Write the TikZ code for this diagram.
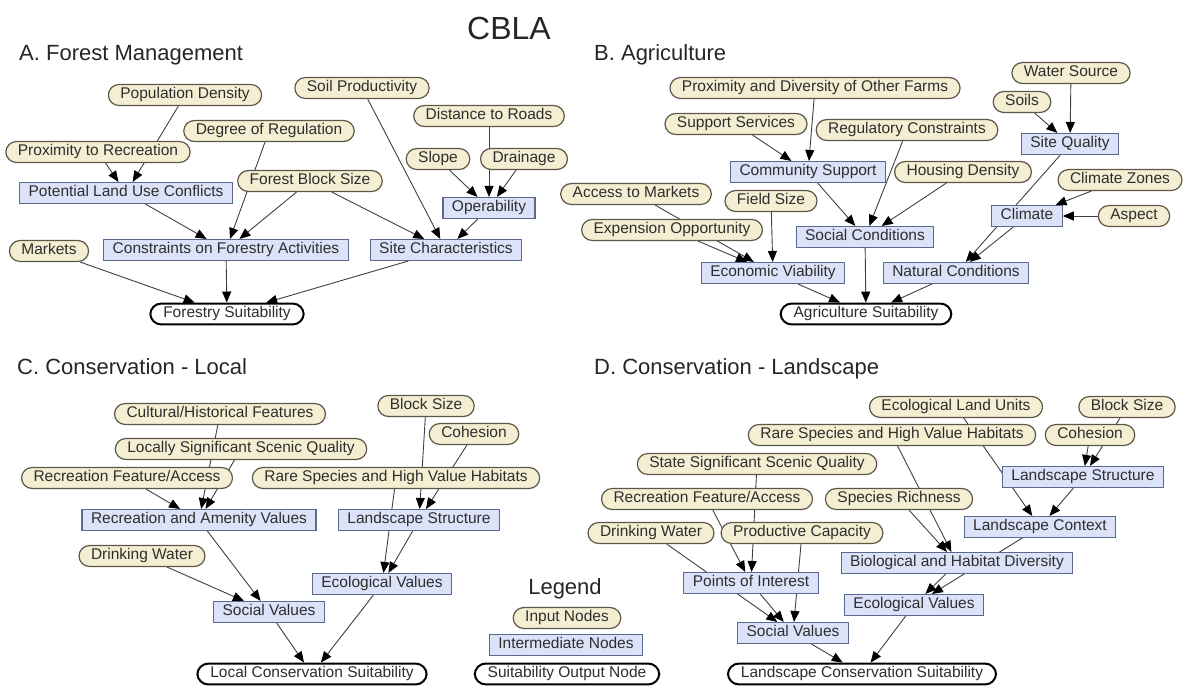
\documentclass[tikz,border=0pt]{standalone}
\usepackage{fontspec}
\setmainfont{Liberation Sans}
\usetikzlibrary{arrows.meta,backgrounds}
\definecolor{infill}{HTML}{F4EFD3}
\definecolor{indraw}{HTML}{5E5748}
\definecolor{midfill}{HTML}{DCE3F9}
\definecolor{middraw}{HTML}{5D6890}
\definecolor{inktext}{HTML}{2E2E2E}

\begin{document}
\begin{tikzpicture}[x=1pt,y=-1pt]
\tikzstyle{every node}=[font=\fontsize{15.5}{18}\selectfont, text=inktext, text height=11pt, text depth=3.5pt, inner ysep=3.2pt]
\tikzstyle{innode}=[draw=indraw, fill=infill, line width=1.2pt, rounded corners=10.5pt, inner xsep=12pt]
\tikzstyle{midnode}=[draw=middraw, fill=midfill, line width=1.2pt, inner xsep=9pt]
\tikzstyle{outnode}=[draw=black, fill=white, line width=2pt, rounded corners=11pt, inner xsep=13pt]
\tikzstyle{heading}=[font=\fontsize{22}{26}\selectfont, text=black!85, text height=16pt, text depth=0pt, inner sep=0pt]
\tikzstyle{link}=[draw=black!75, line width=0.9pt, -{Triangle[length=11pt,width=9pt,color=black]}]

\useasboundingbox (0,0) rectangle (1183,686);

\node[heading, font=\fontsize{32}{36}\selectfont, text height=23pt] (cbla) at (509,28) {CBLA};
\node[heading, anchor=west] (titleA) at (19,52) {A. Forest Management};
\node[heading, anchor=west] (titleB) at (594,52) {B. Agriculture};
\node[heading, anchor=west] (titleC) at (17,366) {C. Conservation - Local};
\node[heading, anchor=west] (titleD) at (594,366) {D. Conservation - Landscape};

% A. forest
\node[innode] (popden) at (185,95) {Population Density};
\node[innode] (soilprod) at (362,88) {Soil Productivity};
\node[innode] (roads) at (489,116) {Distance to Roads};
\node[innode] (regul) at (269,131) {Degree of Regulation};
\node[innode] (recprox) at (98,152) {Proximity to Recreation};
\node[innode] (slope) at (438,159) {Slope};
\node[innode] (drain) at (524,159) {Drainage};
\node[midnode] (conflict) at (126,193) {Potential Land Use Conflicts};
\node[innode] (blocksize) at (310,181) {Forest Block Size};
\node[midnode] (operab) at (489,208) {Operability};
\node[innode] (markets) at (49,251) {Markets};
\node[midnode] (constr) at (226,250) {Constraints on Forestry Activities};
\node[midnode] (sitechar) at (446,250) {Site Characteristics};
\node[outnode] (forsuit) at (227,314) {Forestry Suitability};

% B. agriculture
\node[innode] (water) at (1071,73) {Water Source};
\node[innode] (farms) at (815,88) {Proximity and Diversity of Other Farms};
\node[innode] (soils) at (1022,102) {Soils};
\node[innode] (support) at (736,124) {Support Services};
\node[innode] (regconst) at (907,130) {Regulatory Constraints};
\node[midnode] (sitequal) at (1070,144) {Site Quality};
\node[midnode] (community) at (808,172) {Community Support};
\node[innode] (housing) at (963,172) {Housing Density};
\node[innode] (climzone) at (1120,180) {Climate Zones};
\node[innode] (markacc) at (636,194) {Access to Markets};
\node[innode] (fieldsize) at (771,201) {Field Size};
\node[midnode] (climate) at (1027,216) {Climate};
\node[innode] (aspect) at (1134,216) {Aspect};
\node[innode] (expand) at (672,230) {Expension Opportunity};
\node[midnode] (social) at (865,237) {Social Conditions};
\node[midnode] (econ) at (773,273) {Economic Viability};
\node[midnode] (natural) at (956,273) {Natural Conditions};
\node[outnode] (agrsuit) at (866,314) {Agriculture Suitability};

% C. local
\node[innode] (cultural) at (220,414) {Cultural/Historical Features};
\node[innode] (cblock) at (426,406) {Block Size};
\node[innode] (ccohes) at (474,434) {Cohesion};
\node[innode] (scenic) at (241,449) {Locally Significant Scenic Quality};
\node[innode] (crecfeat) at (127,478) {Recreation Feature/Access};
\node[innode] (crare) at (396,478) {Rare Species and High Value Habitats};
\node[midnode] (amenity) at (199,520) {Recreation and Amenity Values};
\node[midnode] (clandstr) at (419,520) {Landscape Structure};
\node[innode] (cdrink) at (142,556) {Drinking Water};
\node[midnode] (cecoval) at (382,584) {Ecological Values};
\node[midnode] (csocval) at (269,612) {Social Values};
\node[outnode] (localsuit) at (312,674) {Local Conservation Suitability};

% D. landscape
\node[innode] (elu) at (956,407) {Ecological Land Units};
\node[innode] (dblock) at (1127,407) {Block Size};
\node[innode] (drare) at (892,435) {Rare Species and High Value Habitats};
\node[innode] (dcohes) at (1090,435) {Cohesion};
\node[innode] (statescenic) at (757,464) {State Significant Scenic Quality};
\node[midnode] (dlandstr) at (1083,477) {Landscape Structure};
\node[innode] (drecfeat) at (707,499) {Recreation Feature/Access};
\node[innode] (richness) at (899,499) {Species Richness};
\node[midnode] (context) at (1040,527) {Landscape Context};
\node[innode] (ddrink) at (651,533) {Drinking Water};
\node[innode] (prodcap) at (802,533) {Productive Capacity};
\node[midnode] (biodiv) at (957,563) {Biological and Habitat Diversity};
\node[midnode] (interest) at (751,583) {Points of Interest};
\node[midnode] (decoval) at (914,605) {Ecological Values};
\node[midnode] (dsocval) at (793,633) {Social Values};
\node[outnode] (landsuit) at (862,674) {Landscape Conservation Suitability};

% legend
\node[heading] (legend) at (565,586) {Legend};
\node[innode] (leginput) at (567,618) {Input Nodes};
\node[midnode] (legmid) at (566,645) {Intermediate Nodes};
\node[outnode] (legout) at (567,674) {Suitability Output Node};

\begin{scope}[on background layer]
% A
\draw[link] (popden) -- (conflict);
\draw[link] (recprox) -- (conflict);
\draw[link] (conflict) -- (constr);
\draw[link] (regul) -- (constr);
\draw[link] (blocksize) -- (constr);
\draw[link] (blocksize) -- (sitechar);
\draw[link] (soilprod) -- (sitechar);
\draw[link] (operab) -- (sitechar);
\draw[link] (slope) -- (operab);
\draw[link] (roads) -- (operab);
\draw[link] (drain) -- (operab);
\draw[link] (markets) -- (forsuit);
\draw[link] (constr) -- (forsuit);
\draw[link] (sitechar) -- (forsuit);
% B
\draw[link] (farms) -- (community);
\draw[link] (support) -- (community);
\draw[link] (community) -- (social);
\draw[link] (regconst) -- (social);
\draw[link] (housing) -- (social);
\draw[link] (water) -- (sitequal);
\draw[link] (soils) -- (sitequal);
\draw[link] (sitequal) -- (natural);
\draw[link] (climate) -- (natural);
\draw[link] (climzone) -- (climate);
\draw[link] (aspect) -- (climate);
\draw[link] (markacc) -- (econ);
\draw[link] (expand) -- (econ);
\draw[link] (fieldsize) -- (econ);
\draw[link] (econ) -- (agrsuit);
\draw[link] (social) -- (agrsuit);
\draw[link] (natural) -- (agrsuit);
% C
\draw[link] (cultural) -- (amenity);
\draw[link] (scenic) -- (amenity);
\draw[link] (crecfeat) -- (amenity);
\draw[link] (cblock) -- (clandstr);
\draw[link] (ccohes) -- (clandstr);
\draw[link] (crare) -- (cecoval);
\draw[link] (clandstr) -- (cecoval);
\draw[link] (amenity) -- (csocval);
\draw[link] (cdrink) -- (csocval);
\draw[link] (csocval) -- (localsuit);
\draw[link] (cecoval) -- (localsuit);
% D
\draw[link] (elu) -- (context);
\draw[link] (dblock) -- (dlandstr);
\draw[link] (dcohes) -- (dlandstr);
\draw[link] (dlandstr) -- (context);
\draw[link] (drare) -- (biodiv);
\draw[link] (richness) -- (biodiv);
\draw[link] (context) -- (decoval);
\draw[link] (biodiv) -- (decoval);
\draw[link] (statescenic) -- (interest);
\draw[link] (drecfeat) -- (interest);
\draw[link] (ddrink) -- (dsocval);
\draw[link] (prodcap) -- (dsocval);
\draw[link] (interest) -- (dsocval);
\draw[link] (dsocval) -- (landsuit);
\draw[link] (decoval) -- (landsuit);
\end{scope}

\end{tikzpicture}
\end{document}
